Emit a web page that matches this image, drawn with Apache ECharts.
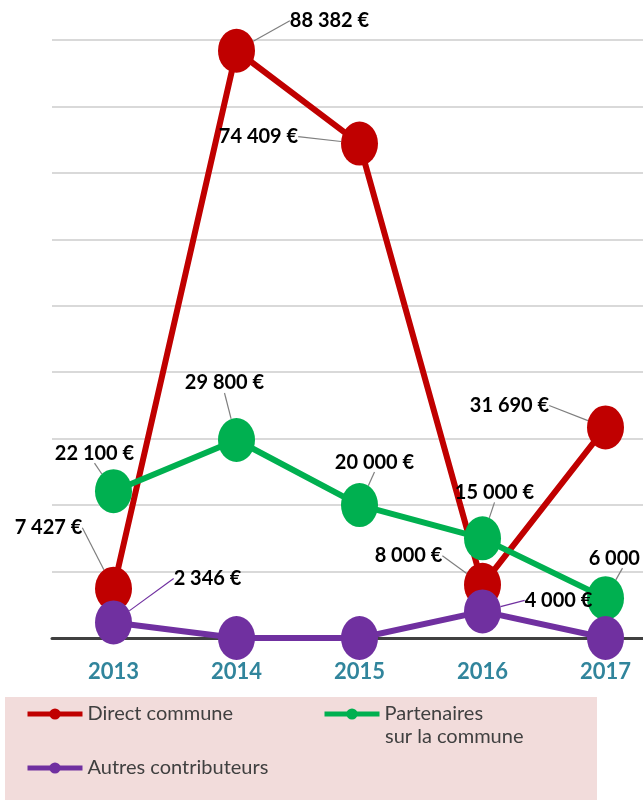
<!DOCTYPE html>
<html>
<head>
<meta charset="utf-8">
<script src="https://cdn.jsdelivr.net/npm/echarts@6/dist/echarts.min.js"></script>
<style>
    html, body { margin: 0; padding: 0; background: #fff; overflow: hidden; }
    #main { width: 667px; height: 803px; }
</style>
</head>
<body>
<div id="main"></div>
<script>
var years = ['2013', '2014', '2015', '2016', '2017'];
var directCommune = [7427, 88382, 74409, 8000, 31690];
var partenaires = [22100, 29800, 20000, 15000, 6000];
var autres = [2346, 0, 0, 4000, 0];

// décalage des étiquettes (centre étiquette - point), en px
var offDirect = [[-65, -61], [93, -30], [-101, -7], [-74, -29], [-96, -22]];
var offPart = [[-19, -38], [-12, -57], [15, -43], [12, -46], [17, -40]];
var offAutres = [[94, -44], null, null, [76, -11], null];

var chart = echarts.init(document.getElementById('main'));

function fmt(v) {
    return String(v).replace(/\B(?=(\d{3})+(?!\d))/g, ' ') + ' €';
}

function mkSeries(name, data, color, offs, lineColor) {
    return {
        name: name,
        type: 'line',
        data: data,
        symbol: 'circle',
        symbolSize: [37, 44],
        lineStyle: { color: color, width: 6 },
        itemStyle: { color: color },
        label: {
            show: true,
            position: 'inside',
            fontFamily: 'Lato',
            fontWeight: 'bold',
            fontSize: 20,
            color: '#000',
            formatter: function (p) {
                return p.value ? fmt(p.value) : '';
            }
        },
        labelLine: {
            show: true,
            lineStyle: { color: lineColor, width: 1.2 }
        },
        labelLayout: function (p) {
            var o = offs[p.dataIndex];
            if (!o) return {};
            return { dx: o[0], dy: o[1] };
        }
    };
}

var legendText = { fontFamily: 'Lato', fontSize: 20, color: '#404040' };

var option = {
    animation: false,
    grid: {
        left: 52,
        right: 0,
        top: 40,
        bottom: 165
    },
    graphic: [{
        type: 'rect',
        z: 0,
        shape: { x: 5, y: 697, width: 592, height: 103 },
        style: { fill: '#f2dcdb' }
    }, {
        type: 'text',
        z: 5,
        left: 385,
        top: 727,
        style: { text: 'sur la commune', font: '20px Lato', fill: '#404040' }
    }],
    legend: [{
        data: ['Direct commune'],
        left: 20, top: 699,
        itemWidth: 55, itemHeight: 14,
        lineStyle: { width: 5 },
        textStyle: legendText
    }, {
        data: ['Partenaires'],
        left: 317, top: 699,
        itemWidth: 55, itemHeight: 14,
        lineStyle: { width: 5 },
        textStyle: legendText
    }, {
        data: ['Autres contributeurs'],
        left: 20, top: 753,
        itemWidth: 55, itemHeight: 14,
        lineStyle: { width: 5 },
        textStyle: legendText
    }],
    xAxis: {
        type: 'category',
        data: years,
        axisTick: { show: false },
        axisLine: { lineStyle: { color: '#404040', width: 3 } },
        axisLabel: {
            color: '#31859c',
            fontFamily: 'Lato',
            fontWeight: 'bold',
            fontSize: 22,
            margin: 23
        }
    },
    yAxis: {
        type: 'value',
        min: 0,
        max: 90000,
        interval: 10000,
        axisLabel: { show: false },
        axisLine: { show: false },
        axisTick: { show: false },
        splitLine: { lineStyle: { color: '#d9d9d9', width: 2 } }
    },
    series: [
        mkSeries('Direct commune', directCommune, '#c00000', offDirect, '#7f7f7f'),
        mkSeries('Partenaires', partenaires, '#00b050', offPart, '#7f7f7f'),
        mkSeries('Autres contributeurs', autres, '#7030a0', offAutres, '#7030a0')
    ]
};

chart.setOption(option);
</script>
</body>
</html>
